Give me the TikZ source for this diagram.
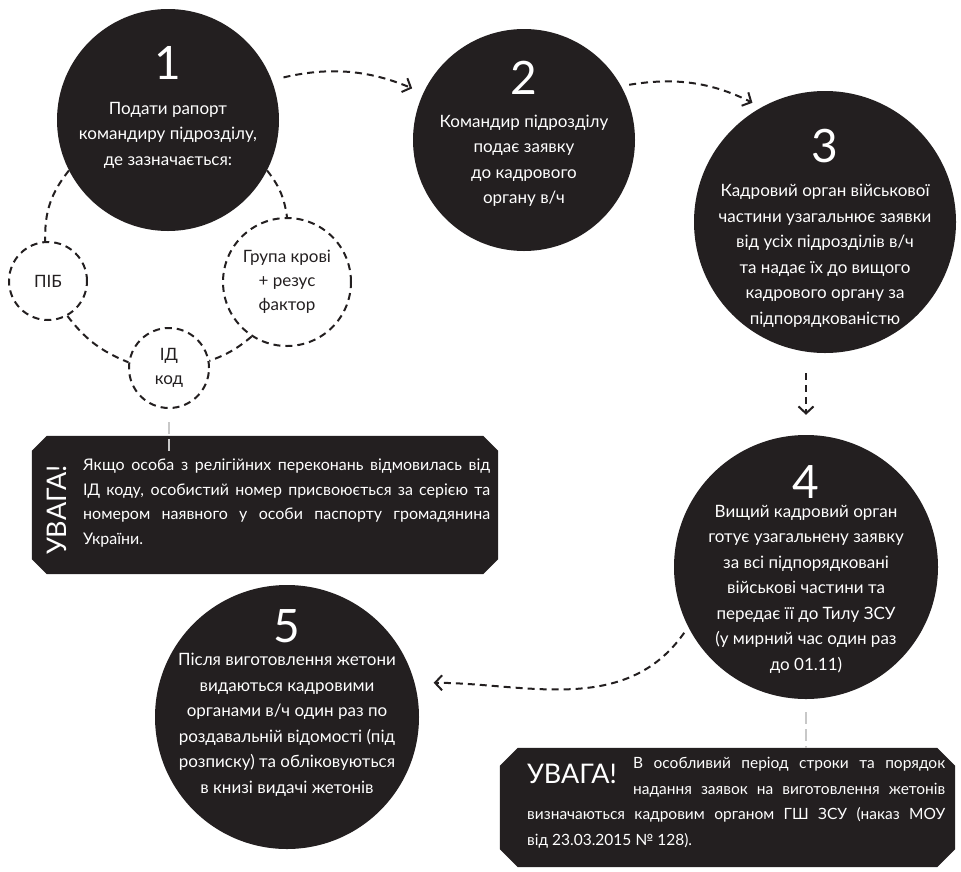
\documentclass[tikz,border=0pt]{standalone}
\usepackage{fontspec}
\setmainfont{Lato}
\usetikzlibrary{arrows.meta}
\definecolor{ink}{HTML}{231F20}
\definecolor{guide}{HTML}{C8C8C8}
\hyphenpenalty=10000
\exhyphenpenalty=10000
\tolerance=10000
\newcommand\zrizana[2]{% box with cut corners round node #1, cut #2
  \fill[ink] ([xshift=#2]#1.north west) -- ([xshift=-#2]#1.north east)
    -- ([yshift=-#2]#1.north east) -- ([yshift=#2]#1.south east)
    -- ([xshift=-#2]#1.south east) -- ([xshift=#2]#1.south west)
    -- ([yshift=#2]#1.south west) -- ([yshift=-#2]#1.north west) -- cycle;}
\tikzset{
  krok/.style={circle,fill=ink,inner sep=0pt},
  mala/.style={circle,draw=ink,line width=2pt,dash pattern=on 7pt off 5pt,
    text=ink,align=center,inner sep=0pt,font=\fontsize{17}{24}\selectfont},
  nomer/.style={text=white,inner sep=0pt,font=\fontsize{46}{46}\selectfont},
  opys/.style={text=white,align=center,inner sep=0pt,font=\fontsize{17}{25.5}\selectfont},
  strilka/.style={ink,line width=2pt,dash pattern=on 7pt off 5pt,
    -{Straight Barb[length=7pt,width=15pt]}},
  zvjazok/.style={ink,line width=2pt,dash pattern=on 7pt off 5pt},
  sira/.style={guide,line width=2.5pt,dash pattern=on 12pt off 5pt},
  uvaga/.style={rectangle,inner sep=0pt},
  napys/.style={text=white,inner sep=0pt,font=\fontsize{27}{27}\selectfont},
  notatka/.style={text=white,align=justify,inner sep=0pt}
}
\begin{document}
\begin{tikzpicture}[x=1pt,y=-1pt]
\useasboundingbox (0,0) rectangle (961,871);

% кроки
\node[krok,minimum size=222pt] (c1) at (168,120) {};
\node[krok,minimum size=222pt] (c2) at (524,140) {};
\node[krok,minimum size=262pt] (c3) at (825,222) {};
\node[krok,minimum size=264pt] (c4) at (806,567) {};
\node[krok,minimum size=264pt] (c5) at (287,717) {};

\node[nomer] (n1) at (168,63) {1};
\node[nomer] (n2) at (524,78) {2};
\node[nomer] (n3) at (825,146) {3};
\node[nomer] (n4) at (806,482) {4};
\node[nomer] (n5) at (287,626) {5};

\node[opys] (t1) at (168,135) {Подати рапорт\\командиру підрозділу,\\де зазначається:};
\node[opys] (t2) at (524,161) {Командир підрозділу\\подає заявку\\до кадрового\\органу в/ч};
\node[opys] (t3) at (825,256) {Кадровий орган військової\\частини узагальнює заявки\\від усіх підрозділів в/ч\\та надає їх до вищого\\кадрового органу за\\підпорядкованістю};
\node[opys] (t4) at (806,589) {Вищий кадровий орган\\готує узагальнену заявку\\за всі підпорядковані\\військові частини та\\передає її до Тилу ЗСУ\\(у мирний час один раз\\до 01.11)};
\node[opys] (t5) at (287,725) {Після виготовлення жетони\\видаються кадровими\\органами в/ч один раз по\\роздавальній відомості (під\\розписку) та обліковуються\\в книзі видачі жетонів};

% дані рапорту
\node[mala,minimum size=78pt] (pib) at (48,281) {ПІБ};
\node[mala,minimum size=128pt] (grp) at (287,282) {Група крові\\+ резус\\фактор};
\node[mala,minimum size=80pt] (id) at (169,368) {ІД\\код};

\draw[zvjazok] (c1.207) to[bend right=20] (pib.94);
\draw[zvjazok] (c1.333) to[bend left=15] (grp.90);
\draw[zvjazok] (pib.299) to[bend right=15] (id.172);
\draw[zvjazok] (grp.237) to[bend left=10] (id.10);

% увага
\node[uvaga,minimum width=466pt,minimum height=138pt] (b1) at (265,505) {};
\node[uvaga,minimum width=455pt,minimum height=119pt] (b2) at (727.5,807.5) {};
\zrizana{b1}{15pt}
\zrizana{b2}{18pt}

\node[napys,rotate=90] (w1) at (57,510) {УВАГА!};
\node[napys] (w2) at (572,774) {УВАГА!};

\node[notatka,text width=407pt,anchor=north west,font=\fontsize{16}{24.5}\selectfont] (p1) at (83,459)
  {Якщо особа з релігійних переконань відмовилась від\linebreak
   ІД коду, особистий номер присвоюється за серією та\linebreak
   номером наявного у особи паспорту громадянина\linebreak
   України.\par};
\node[notatka,text width=418pt,anchor=north west,font=\fontsize{15.5}{25.7}\selectfont] (p2) at (527,757)
  {\parshape=3 106pt 312pt 106pt 312pt 0pt 418pt
   В особливий період строки та порядок\linebreak
   надання заявок на виготовлення жетонів\linebreak
   визначаються кадровим органом ГШ ЗСУ (наказ МОУ\linebreak
   від 23.03.2015 № 128).\par};

\coordinate (u1) at (169,453);
\draw[sira,shorten <=13pt] (id.south) -- (u1);
\draw[sira,shorten <=13pt] (c4.south) -- (c4.south |- b2.north);

% стрілки
\draw[strilka,shorten <=12pt,shorten >=12pt] (c1.21) to[bend left=18] (c2.155);
\draw[strilka,shorten <=8pt,shorten >=10pt] (c2.29) to[bend left=18] (c3.119);
\draw[strilka,shorten <=20pt,shorten >=20pt] (c4.north |- c3.south) -- (c4.north);
\draw[strilka,shorten <=7pt,shorten >=19pt] (c4.207) to[out=235,in=0] (c5.15);
\end{tikzpicture}
\end{document}
